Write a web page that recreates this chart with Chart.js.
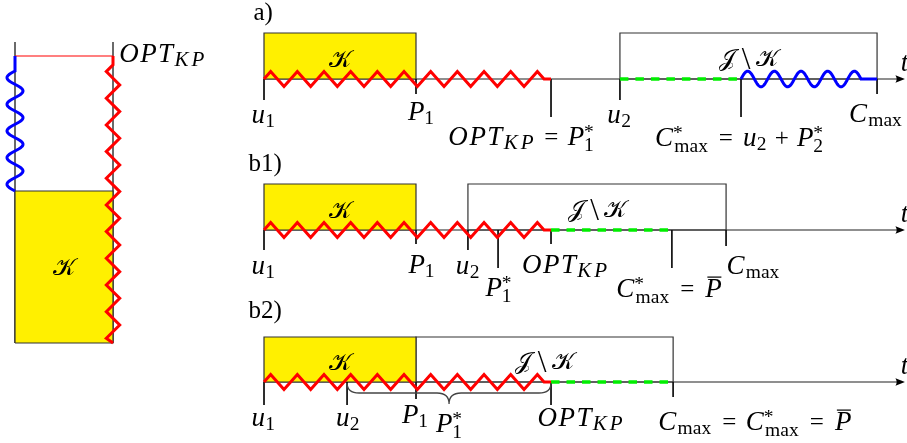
<!DOCTYPE html>
<html><head><meta charset="utf-8">
<script src="https://cdn.jsdelivr.net/npm/chart.js@4"></script>
<style>html,body{margin:0;padding:0;background:#fff;overflow:hidden}canvas{display:block}</style>
</head><body>
<canvas id="c" width="907" height="443"></canvas>
<script>
// ---------------- DATA (time values; 1 unit ≈ one zig-zag period) ----------------
// panel a): u1, P1, OPT_KP, u2, C*max, Cmax
const eventsA  = [0, 6.0, 11.33, 14.05, 18.83, 24.2];
const labelsA  = ['u_1', 'P_1', 'OPT_{KP} = P_1^*', 'u_2', 'C^*_{\\rm{max}} = u_2 + P_2^*', 'C_{\\rm{max}}'];
// panel b1): u1, P1, u2, P1*, OPT_KP, C*max, Cmax
const eventsB1 = [0, 6.0, 8.05, 9.24, 11.33, 16.1, 18.24];
const labelsB1 = ['u_1', 'P_1', 'u_2', 'P_1^*', 'OPT_{KP}', 'C^*_{\\rm{max}} = \\bar{P}', 'C_{\\rm{max}}'];
// panel b2): u1, u2, P1, OPT_KP, Cmax
const eventsB2 = [0, 3.28, 6.0, 11.33, 16.15];
const labelsB2 = ['u_1', 'u_2', 'P_1', 'OPT_{KP}', 'C_{\\rm{max}} = C^*_{\\rm{max}} = \\bar{P}'];
const braceLabelB2 = 'P_1^*';
const axisEnd = 25.3;
// left (vertical) view: heights P1 and OPT_KP
const leftLevels = [6.0, 11.33];
const leftLabels = ['\\cal{K}', 'OPT_{KP}'];
const panelNames = ['\\rm{a)}', '\\rm{b1)}', '\\rm{b2)}'];
const boxNameK = '\\cal{K}';
const boxNameJK = '\\cal{J} \\setminus \\cal{K}';

// ---------------- LAYOUT (pixels / styles, not data) ----------------
const W = 907, H = 443;
const PX0 = 264, U = 76 / 3;          // pixel of t = 0, pixels per time unit
const LEFT0 = 343;                    // pixel row of t = 0 in the vertical view
const LEFT_COLS = [15, 113];
const LEFT_TOP = 42;
const FS = 25, SCRIPT = 0.78, IT_SCALE = 1.08;
const COL = { yellow: '#fff000', axis: '#6a6a6a', box: '#333333', red: '#ff0000', blue: '#0000ff', green: '#00ee00' };

const panels = [
  { ev: eventsA, labels: labelsA, base: 79, boxH: 46, kbox: [0, 1], jbox: [3, 5], zig: [0, 2], green: [3, 4], wave: [4, 5],
    tick: [21, 15, 38, 21, 38, 15], dx: [-1, 5, -30, -1, -2, -1], ly: [123, 120, 145, 123, 146, 122], nameX: 252, nameY: 20 },
  { ev: eventsB1, labels: labelsB1, base: 230, boxH: 46, kbox: [0, 1], jbox: [2, 6], zig: [0, 4], green: [4, 5],
    tick: [20, 14, 20, 38, 14, 38, 16], dx: [-1, 5.5, -0.5, 0.5, 14, -2, 27.5], ly: [274, 273, 274, 296, 273, 297, 274], nameX: 247, nameY: 171 },
  { ev: eventsB2, labels: labelsB2, base: 382, boxH: 45, kbox: [0, 2], jbox: [2, 4], zig: [0, 3], green: [3, 4], brace: [1, 3],
    tick: [23, 23, 17, 23, 15], dx: [-1, 0.5, -1, 29.5, 82.5], ly: [426, 426, 423, 426, 430], nameX: 247, nameY: 318, braceY: 432 }
];

// ---------------- DATASETS ----------------
const datasets = [];
function addLine(pts, color, width, order, extra) {
  datasets.push(Object.assign({
    data: pts, borderColor: color, borderWidth: width, pointRadius: 0, pointHoverRadius: 0,
    fill: false, tension: 0, order: order, xAxisID: 'x', yAxisID: 'y', borderCapStyle: 'butt'
  }, extra || {}));
}
function rectPts(a, b, y0, y1) { return [{x:a,y:y0},{x:a,y:y1},{x:b,y:y1},{x:b,y:y0},{x:a,y:y0}]; }

panels.forEach(p => {
  const ev = p.ev, b = p.base, t = b - p.boxH;
  addLine([{x: ev[0], y: b}, {x: axisEnd - 0.3, y: b}], COL.axis, 1.7, 10);
  addLine(rectPts(ev[p.kbox[0]], ev[p.kbox[1]], b, t), COL.box, 1.2, 8, { fill: 'shape', backgroundColor: COL.yellow });
  addLine(rectPts(ev[p.jbox[0]], ev[p.jbox[1]], b, t), COL.box, 1.2, 8);
  ev.forEach((v, i) => addLine([{x: v, y: b}, {x: v, y: b + p.tick[i]}], '#111', 1, 6));
  addLine([{x: ev[p.green[0]], y: b}, {x: ev[p.green[1]], y: b}], COL.green, 3.6, 2, { borderDash: [8.5, 7] });
});
// left vertical view
const lx = { xAxisID: 'xL', yAxisID: 'yT' };
const topVal = (LEFT0 - LEFT_TOP) / U;
addLine(rectPts(LEFT_COLS[0], LEFT_COLS[1], 0, leftLevels[0]), COL.box, 1.2, 8,
  Object.assign({ fill: 'shape', backgroundColor: COL.yellow }, lx));
LEFT_COLS.forEach(c => addLine([{x: c, y: 0}, {x: c, y: topVal}], COL.axis, 2, 9, lx));
addLine([{x: LEFT_COLS[0], y: leftLevels[1]}, {x: LEFT_COLS[1], y: leftLevels[1]}], COL.red, 1.1, 7, lx);

// ---------------- MATH TEXT ----------------
const CMW = {
  it:   { u: .572, O: .791, P: .781, T: .724, K: .889, C: .785, t: .361 },
  itNo: { u: .572, O: .763, P: .642, T: .585, K: .849, C: .715, t: .361 },
  rm:   { '1': .5, '2': .5, m: .833, a: .5, x: .528, '=': .778, '+': .778, ')': .389, b: .556, '*': .5 }
};
const CAL = { K: '\u{1D4A6}', J: '\u{1D4A5}' };
function parseTex(src) {
  let i = 0;
  function atom() {
    const c = src[i];
    if (c === '{') { i++; return seq(true); }
    if (c === '\\') {
      let j = i + 1; while (j < src.length && /[A-Za-z]/.test(src[j])) j++;
      const cmd = src.slice(i + 1, j); i = j;
      if (cmd === 'rm') { const g = atom(); return [{ t: g.map(x => x.t).join(''), st: 'rm' }]; }
      if (cmd === 'bar') { const g = atom(); g.forEach(x => x.bar = true); return g; }
      if (cmd === 'cal') { const g = atom(); return g.map(x => ({ t: x.t, st: 'cal' })); }
      if (cmd === 'setminus') return [{ t: '\\', st: 'rm', op: 'bin', big: true }];
      return [];
    }
    i++;
    if (c === '=' || c === '+') return [{ t: c, st: 'rm', op: c === '=' ? 'rel' : 'bin' }];
    if (/[0-9*()]/.test(c)) return [{ t: c, st: 'rm' }];
    return [{ t: c, st: 'it' }];
  }
  function seq(inGroup) {
    const out = [];
    while (i < src.length) {
      const c = src[i];
      if (c === '}') { i++; if (inGroup) return out; continue; }
      if (c === ' ') { i++; continue; }
      if (c === '_' || c === '^') {
        i++; const g = atom(); const last = out[out.length - 1];
        if (last) { if (c === '_') last.sub = g; else last.sup = g; }
        continue;
      }
      out.push(...atom());
    }
    return out;
  }
  return seq(false);
}
const SERIF = '"Liberation Serif", "Times New Roman", serif';
function fontOf(it, size) {
  if (it.st === 'it') return 'italic ' + (size * IT_SCALE) + 'px ' + SERIF;
  if (it.st === 'cal') return (size * 0.95) + 'px "DejaVu Sans", "DejaVu Serif", ' + SERIF;
  return (it.big ? size * 1.25 : size) + 'px ' + SERIF;
}
function glyphText(it) { return it.st === 'cal' ? (CAL[it.t] || it.t) : it.t; }
function advance(ctx, it, size, noIc) {
  if (it.st === 'it') { const tb = noIc ? CMW.itNo : CMW.it; if (tb[it.t] != null) return tb[it.t] * size; }
  if (it.st === 'rm' && !it.big) {
    let w = 0, ok = true;
    for (const ch of it.t) { if (CMW.rm[ch] != null) w += CMW.rm[ch] * size; else ok = false; }
    if (ok) return w;
  }
  ctx.font = fontOf(it, size);
  return ctx.measureText(glyphText(it)).width;
}
function layout(ctx, items, size, x, y, draw) {
  let cx = x;
  const ss = size * SCRIPT;
  items.forEach(it => {
    const sp = it.op ? size * (it.op === 'rel' ? 5 : 4) / 18 : 0;
    cx += sp;
    const w = advance(ctx, it, size, !!it.sub);
    if (draw) {
      ctx.font = fontOf(it, size);
      const txt = glyphText(it);
      const mw = ctx.measureText(txt).width;
      ctx.fillText(txt, cx + (w - mw) / 2, y + (it.big ? size * 0.12 : 0));
      if (it.bar) ctx.fillRect(cx + size * 0.14, y - size * 0.82, w - size * 0.22, 1.2);
    }
    cx += w;
    if (it.sub || it.sup) {
      let ws = 0, wp = 0;
      if (it.sub) ws = layout(ctx, it.sub, ss, cx, y + size * (it.sup ? 0.24 : 0.15), draw);
      if (it.sup) wp = layout(ctx, it.sup, ss, cx, y - size * 0.3, draw);
      cx += Math.max(ws, wp);
    }
    cx += sp;
  });
  return cx - x;
}
function drawTex(ctx, src, x, y, align, size) {
  const items = parseTex(src); size = size || FS;
  const w = layout(ctx, items, size, 0, 0, false);
  const x0 = align === 'center' ? x - w / 2 : (align === 'right' ? x - w : x);
  layout(ctx, items, size, x0, y, true);
}

// ---------------- DECORATIONS ----------------
function pathDeco(ctx, x0, y0, x1, y1, o) {
  const dx = x1 - x0, dy = y1 - y0, L = Math.hypot(dx, dy), ux = dx / L, uy = dy / L, nx = uy, ny = -ux;
  const P = 26.67, h = P / 2, q = P / 4, A = o.amp * (o.sign || 1), s0 = (o.start != null ? o.start : q);
  let k = Math.floor((L - s0 - q) / h); if (k % 2) k--;
  const sEnd = s0 + k * h + q;
  const pt = (s, off) => [x0 + ux * s + nx * off, y0 + uy * s + ny * off];
  ctx.beginPath(); ctx.moveTo(x0, y0);
  if (o.kind === 'zig') {
    for (let i = 0; i <= k; i++) { const p = pt(s0 + i * h, (i % 2 ? -1 : 1) * A); ctx.lineTo(p[0], p[1]); }
  } else {
    for (let s = 0; s <= sEnd; s += 0.5) { const p = pt(s, A * Math.sin(2 * Math.PI * s / P)); ctx.lineTo(p[0], p[1]); }
  }
  const e = pt(sEnd, 0); ctx.lineTo(e[0], e[1]);
  ctx.lineTo(x1, y1);
  ctx.strokeStyle = o.color; ctx.lineWidth = 3; ctx.lineJoin = 'miter'; ctx.lineCap = 'butt'; ctx.stroke();
}
function brace(ctx, x0, x1, y) {
  const xm = (x0 + x1) / 2, hh = 10, d = 21, r = 12;
  ctx.beginPath();
  ctx.moveTo(x0, y);
  ctx.quadraticCurveTo(x0, y + hh, x0 + r, y + hh);
  ctx.lineTo(xm - r, y + hh);
  ctx.quadraticCurveTo(xm, y + hh, xm, y + d);
  ctx.quadraticCurveTo(xm, y + hh, xm + r, y + hh);
  ctx.lineTo(x1 - r, y + hh);
  ctx.quadraticCurveTo(x1, y + hh, x1, y);
  ctx.strokeStyle = '#444'; ctx.lineWidth = 1.3; ctx.stroke();
}

const decoPlugin = {
  id: 'deco',
  afterDatasetsDraw(chart) {
    const ctx = chart.ctx, sx = chart.scales.x, sy = chart.scales.y, sxl = chart.scales.xL, syt = chart.scales.yT;
    ctx.save();
    panels.forEach(p => {
      const y = sy.getPixelForValue(p.base);
      const X = i => sx.getPixelForValue(p.ev[i]);
      const xe = sx.getPixelForValue(axisEnd);
      ctx.fillStyle = '#000';
      ctx.beginPath(); ctx.moveTo(xe, y); ctx.lineTo(xe - 9.5, y - 3.8); ctx.quadraticCurveTo(xe - 7, y, xe - 9.5, y + 3.8); ctx.closePath(); ctx.fill();
      pathDeco(ctx, X(p.zig[0]), y, X(p.zig[1]), y, { kind: 'zig', color: COL.red, amp: 7.6 });
      if (p.wave) pathDeco(ctx, X(p.wave[0]), y, X(p.wave[1]), y, { kind: 'wave', color: COL.blue, amp: 7.8 });
      if (p.brace) brace(ctx, X(p.brace[0]), X(p.brace[1]), y + 1);
    });
    const xl0 = sxl.getPixelForValue(LEFT_COLS[0]), xl1 = sxl.getPixelForValue(LEFT_COLS[1]);
    const yb = syt.getPixelForValue(0), yk = syt.getPixelForValue(leftLevels[0]), yo = syt.getPixelForValue(leftLevels[1]);
    pathDeco(ctx, xl1, yb, xl1, yo, { kind: 'zig', color: COL.red, amp: 6.7, start: 4.7 });
    pathDeco(ctx, xl0, yk, xl0, yo, { kind: 'wave', color: COL.blue, amp: 8 });
    ctx.restore();
  },
  afterDraw(chart) {
    const ctx = chart.ctx, sx = chart.scales.x, sy = chart.scales.y, sxl = chart.scales.xL, syt = chart.scales.yT;
    ctx.save();
    ctx.fillStyle = '#000'; ctx.textBaseline = 'alphabetic';
    panels.forEach((p, pi) => {
      const b = sy.getPixelForValue(p.base);
      p.labels.forEach((lab, i) => drawTex(ctx, lab, sx.getPixelForValue(p.ev[i]) + p.dx[i], p.ly[i], 'center'));
      drawTex(ctx, panelNames[pi], p.nameX, p.nameY, 'left');
      drawTex(ctx, 't', 900, b - 8, 'left');
      const kx = (sx.getPixelForValue(p.ev[p.kbox[0]]) + sx.getPixelForValue(p.ev[p.kbox[1]])) / 2;
      const jx = (sx.getPixelForValue(p.ev[p.jbox[0]]) + sx.getPixelForValue(p.ev[p.jbox[1]])) / 2;
      drawTex(ctx, boxNameK, kx, b - 12, 'center');
      drawTex(ctx, boxNameJK, jx, b - 13, 'center');
      if (p.brace) {
        const mx = (sx.getPixelForValue(p.ev[p.brace[0]]) + sx.getPixelForValue(p.ev[p.brace[1]])) / 2;
        drawTex(ctx, braceLabelB2, mx, p.braceY, 'center');
      }
    });
    const xl0 = sxl.getPixelForValue(LEFT_COLS[0]), xl1 = sxl.getPixelForValue(LEFT_COLS[1]);
    drawTex(ctx, leftLabels[0], (xl0 + xl1) / 2, (syt.getPixelForValue(0) + syt.getPixelForValue(leftLevels[0])) / 2 + 8, 'center');
    drawTex(ctx, leftLabels[1], xl1 + 6, syt.getPixelForValue(leftLevels[1]) + 6, 'left');
    ctx.restore();
  }
};

new Chart(document.getElementById('c'), {
  type: 'line',
  data: { datasets },
  options: {
    responsive: false, animation: false, devicePixelRatio: 1, events: [],
    layout: { padding: 0 },
    plugins: { legend: { display: false }, tooltip: { enabled: false }, title: { display: false } },
    scales: {
      x:  { type: 'linear', display: false, min: -PX0 / U, max: (W - PX0) / U },
      y:  { type: 'linear', display: false, min: 0, max: H, reverse: true },
      xL: { type: 'linear', axis: 'x', display: false, min: 0, max: W },
      yT: { type: 'linear', axis: 'y', display: false, min: -(H - LEFT0) / U, max: LEFT0 / U }
    }
  },
  plugins: [decoPlugin]
});
</script>
</body></html>
